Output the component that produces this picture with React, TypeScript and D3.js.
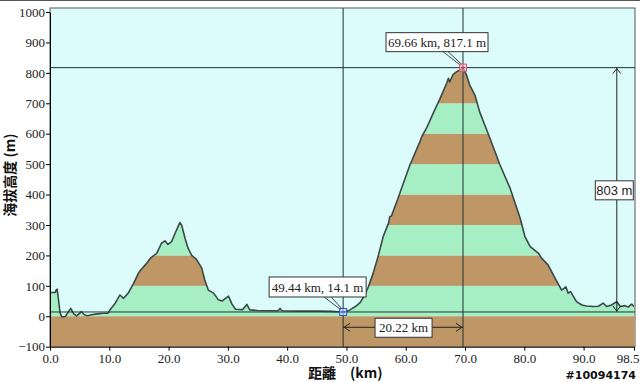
import React, { useEffect, useRef } from 'react'
import * as d3 from 'd3'

// elevation profile
const distanceKm = [
  0, 0.9, 1.0, 1.2, 1.4, 1.7, 2.0, 2.6, 3.0, 3.5, 4.0, 4.5, 5.3, 5.8, 6.3, 7.0, 8.0, 9.0, 9.8,
  10.1, 11.0, 11.8, 12.4, 13.2, 14.1, 14.9, 15.3, 16.3, 16.9, 18.0, 18.8, 19.4, 19.9, 20.5, 21.1,
  21.9, 22.2, 22.8, 23.3, 23.9, 24.7, 25.6, 26.1, 26.7, 27.6, 28.4, 29.0, 30.1, 30.7, 31.3, 32.5,
  33.2, 33.7, 35.0, 37.0, 38.5, 38.8, 39.1, 42.0, 45.0, 47.5, 48.5, 49.44, 50.0, 50.6, 51.5, 52.3,
  53.1, 53.7, 54.5, 55.4, 56.2, 57.1, 57.3, 57.6, 58.7, 59.0, 60.7, 62.4, 62.7, 63.5, 64.7, 65.8,
  66.9, 67.2, 67.4, 68.0, 68.6, 69.2, 69.66, 70.2, 70.8, 71.7, 72.5, 74.2, 75.9, 77.6, 79.3, 80.1,
  81.0, 82.4, 82.9, 84.0, 85.5, 86.3, 87.0, 87.4, 87.8, 88.8, 89.7, 90.5, 91.6, 92.5, 93.3, 93.9,
  94.7, 95.6, 96.2, 97.0, 97.5, 98.1, 98.5
]
const elevationM = [
  78, 78, 85, 89, 60, 11, -2, -1, 12, 26, 8, 1, 15, 5, 2, 5, 8, 10, 10,
  21, 43, 70, 59, 76, 108, 141, 152, 174, 190, 207, 240, 248, 236, 245, 273,
  308, 300, 255, 223, 200, 187, 158, 119, 86, 76, 54, 50, 66, 40, 23, 22,
  39, 21, 19, 18, 18, 26, 18, 17, 17, 16, 15, 14.1, 16, 21, 32, 45,
  70, 97, 141, 201, 262, 306, 327, 330, 388, 404, 497, 574, 590, 618, 670, 716,
  766, 782, 770, 795, 804, 810, 817.1, 795, 760, 725, 670, 585, 497, 421, 322, 262,
  229, 207, 191, 169, 114, 86, 97, 76, 81, 48, 37, 34, 32, 33, 43, 32,
  37, 48, 32, 35, 30, 40, 32
]

const xTicks = [0, 10, 20, 30, 40, 50, 60, 70, 80, 90, 98.5]
const yTicks = [-100, 0, 100, 200, 300, 400, 500, 600, 700, 800, 900, 1000]
const bandStarts = [0, 100, 200, 300, 400, 500, 600, 700]

const minPoint = { km: 49.44, m: 14.1 }
const maxPoint = { km: 69.66, m: 817.1 }
const riseAtKm = 95.6

const W = 640
const H = 382
const SKY = '#dcfcfc'
const GREEN = '#a6eec4'
const BROWN = '#bf9766'
const LINE = '#3a4848'
const FONT = '"Times New Roman", "Liberation Serif", Tinos, serif'

const x = d3.scaleLinear().domain([0, 98.5]).range([50, 634])
const y = d3.scaleLinear().domain([-100, 1000]).range([346.7, 12])

const App = () => {
  const xAxisRef = useRef(null)
  const yAxisRef = useRef(null)

  useEffect(() => {
    const xa = d3.select(xAxisRef.current)
    xa.call(d3.axisBottom(x).tickValues(xTicks).tickFormat(d3.format('.1f')).tickSize(4).tickSizeOuter(0))
    const ya = d3.select(yAxisRef.current)
    ya.call(d3.axisLeft(y).tickValues(yTicks).tickFormat(d3.format('d')).tickSize(4).tickSizeOuter(0))
    for (const g of [xa, ya]) {
      g.selectAll('path, line').attr('stroke', '#000')
      g.selectAll('text')
        .attr('fill', '#222')
        .style('font-family', FONT)
        .style('font-size', '13px')
    }
    ya.selectAll('text').attr('x', -5)
    xa.selectAll('text').attr('y', 7)
    // last tick label sits against the right edge
    xa.selectAll('.tick')
      .filter(d => d === 98.5)
      .select('text')
      .attr('text-anchor', 'end')
      .attr('x', 5)
  }, [])

  const pts = distanceKm.map((d, i) => [d, elevationM[i]] as [number, number])
  const area = d3.area<[number, number]>()
    .x(d => x(d[0]))
    .y0(y(0))
    .y1(d => y(d[1]))(pts)
  const line = d3.line<[number, number]>()
    .x(d => x(d[0]))
    .y(d => y(d[1]))(pts)

  const x0 = x(0)
  const x1 = x(98.5) + 1
  const top = 8
  const bottom = y(-100)
  const mnX = x(minPoint.km), mnY = y(minPoint.m)
  const mxX = x(maxPoint.km), mxY = y(maxPoint.m)
  const arrowY = y(0) + 11
  const riseX = x(riseAtKm)

  return (
    <svg width={W} height={H} style={{ position: 'absolute', left: 0, top: 0, background: '#fff' }}>
      <defs>
        <clipPath id="terrain">
          <path d={area ?? ''} />
        </clipPath>
      </defs>
      <line x1={0} x2={W} y1={0.5} y2={0.5} stroke="#555" />
      <rect x={x0} y={top} width={x1 - x0} height={bottom - top} fill={SKY} stroke="#555" />
      <rect x={x0} y={y(0)} width={x1 - x0} height={bottom - y(0)} fill={BROWN} />
      <g clipPath="url(#terrain)">
        {bandStarts.map((b, i) => {
          const b1 = i === bandStarts.length - 1 ? 1000 : b + 100
          return (
            <rect key={b} x={x0} width={x1 - x0} y={y(b1)} height={y(b) - y(b1)}
              fill={i % 2 === 0 ? GREEN : BROWN} />
          )
        })}
      </g>
      <path d={line ?? ''} fill="none" stroke={LINE} strokeWidth={1.6} strokeLinejoin="round" />

      {/* min / max guide lines */}
      <line x1={x0} x2={x1} y1={mnY} y2={mnY} stroke="#1e3a30" />
      <line x1={x0} x2={x1} y1={mxY} y2={mxY} stroke="#1e3030" />
      <line x1={mnX} x2={mnX} y1={top} y2={bottom} stroke="#1e3030" />
      <line x1={mxX} x2={mxX} y1={top} y2={bottom} stroke="#1e3030" />

      {/* distance arrow */}
      <g stroke="#222" fill="none">
        <line x1={mnX} x2={mxX} y1={arrowY} y2={arrowY} />
        <path d={`M${mnX + 7},${arrowY - 4}L${mnX + 1},${arrowY}L${mnX + 7},${arrowY + 4}`} />
        <path d={`M${mxX - 7},${arrowY - 4}L${mxX - 1},${arrowY}L${mxX - 7},${arrowY + 4}`} />
      </g>
      <rect x={(mnX + mxX) / 2 - 28} y={arrowY - 9} width={57} height={19} fill="#fff" stroke="#333" />
      <text x={(mnX + mxX) / 2 + 0.5} y={arrowY + 5} textAnchor="middle" fontFamily={FONT} fontSize={13} fill="#222">20.22 km</text>

      {/* rise arrow */}
      <g stroke="#222" fill="none">
        <line x1={riseX} x2={riseX} y1={mxY} y2={mnY} />
        <path d={`M${riseX - 4},${mxY + 6}L${riseX},${mxY + 1}L${riseX + 4},${mxY + 6}`} />
        <path d={`M${riseX - 4},${mnY - 6}L${riseX},${mnY - 1}L${riseX + 4},${mnY - 6}`} />
      </g>
      <rect x={riseX - 21.5} y={(mxY + mnY) / 2 - 9} width={38} height={19} fill="#fff" stroke="#333" />
      <text x={riseX - 2.5} y={(mxY + mnY) / 2 + 5} textAnchor="middle" fontFamily='"Liberation Sans Narrow", "Liberation Sans", sans-serif' fontSize={13} fill="#222">803 m</text>

      {/* min callout */}
      <g stroke="#444" fill="none">
        <line x1={mnX - 19} y1={mnY - 15} x2={mnX - 2} y2={mnY - 2} />
        <line x1={mnX - 12} y1={mnY - 15} x2={mnX - 1} y2={mnY - 3} />
      </g>
      <rect x={mnX - 74} y={mnY - 35} width={97} height={20} fill="#fff" stroke="#333" />
      <text x={mnX - 25.5} y={mnY - 20} textAnchor="middle" fontFamily={FONT} fontSize={13} fill="#222">49.44 km, 14.1 m</text>
      <rect x={mnX - 3.5} y={mnY - 3.5} width={7} height={7} fill="#c8d8ff" fillOpacity={0.6} stroke="#3050d0" />
      <line x1={mnX - 2} x2={mnX + 2} y1={mnY} y2={mnY} stroke="#3050d0" />

      {/* max callout */}
      <g stroke="#444" fill="none">
        <line x1={mxX - 20} y1={mxY - 16} x2={mxX - 2} y2={mxY - 2} />
        <line x1={mxX - 15} y1={mxY - 16} x2={mxX - 1} y2={mxY - 3} />
      </g>
      <rect x={mxX - 77} y={mxY - 35} width={102} height={19} fill="#fff" stroke="#333" />
      <text x={mxX - 26} y={mxY - 21} textAnchor="middle" fontFamily={FONT} fontSize={13} fill="#222">69.66 km, 817.1 m</text>
      <rect x={mxX - 3.5} y={mxY - 3.5} width={7} height={7} fill="#ffd0d8" fillOpacity={0.6} stroke="#e05070" />
      <path d={`M${mxX - 2},${mxY}H${mxX + 2}M${mxX},${mxY - 2}V${mxY + 2}`} stroke="#c03050" />

      <g ref={xAxisRef} transform={`translate(0,${bottom})`} />
      <g ref={yAxisRef} transform={`translate(${x0},0)`} />

      <text transform={`translate(15,175) rotate(-90)`} textAnchor="middle"
        fontFamily='"Noto Sans CJK TC", sans-serif' fontSize={14} fontWeight={600} fill="#111">海拔高度 (m)</text>
      <text x={308} y={378} fontFamily='"Noto Sans CJK TC", sans-serif' fontSize={14} fontWeight={600} fill="#111">
        距離<tspan dx={14}>(km)</tspan>
      </text>
      <text x={636} y={379} textAnchor="end" fontFamily='"DejaVu Sans", sans-serif' fontSize={11} fontWeight="bold"
        fill="#111" stroke="#fff" strokeWidth={2} paintOrder="stroke">#10094174</text>
    </svg>
  )
}

export default App
